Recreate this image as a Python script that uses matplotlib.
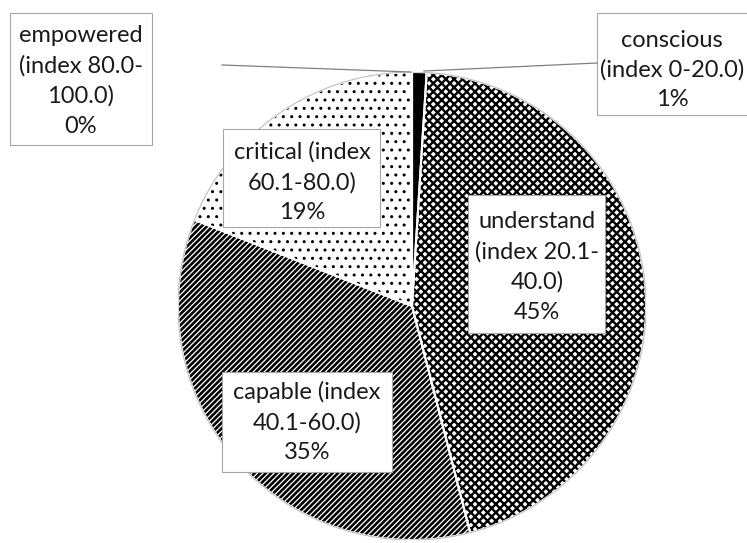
import numpy as np
import matplotlib
matplotlib.use('Agg')
import matplotlib.pyplot as plt
from matplotlib.patches import Rectangle, Circle

# ---------------------------------------------------------------
# Data
# ---------------------------------------------------------------
categories = ['conscious\n(index 0-20.0)',
              'understand\n(index 20.1-\n40.0)',
              'capable (index\n40.1-60.0)',
              'critical (index\n60.1-80.0)',
              'empowered\n(index 80.0-\n100.0)']
shares     = [1, 45, 35, 19, 0]

hatches    = ['', 'xxxx', '//////', '..', '']
hatch_lw   = [1.0, 1.7, 1.9, 1.0, 1.0]
faces      = ['black', 'white', 'white', 'white', 'white']

plt.rcParams['font.family'] = ['Lato', 'DejaVu Sans']
plt.rcParams['hatch.linewidth'] = 1.8

W, H = 747, 543
fig = plt.figure(figsize=(W / 100, H / 100), dpi=100)


def fx(px):
    return px / W


def fy(py):
    return 1 - py / H


# pie axes: centre (412, 306), radius 234 px
cx, cy, r = 412, 306, 234
ax = fig.add_axes([fx(cx - r), fy(cy + r), 2 * r / W, 2 * r / H])

wedges, _ = ax.pie(shares, radius=1, startangle=90, counterclock=False,
                   colors=faces,
                   wedgeprops=dict(edgecolor='black', linewidth=0))
for w, h, lw in zip(wedges, hatches, hatch_lw):
    w.set_hatch(h)
    if hasattr(w, 'set_hatch_linewidth'):
        w.set_hatch_linewidth(lw)

# white separators + grey outline
ax.pie(shares, radius=1, startangle=90, counterclock=False,
       colors=['none'] * len(shares),
       wedgeprops=dict(edgecolor='white', linewidth=1.5, fill=False))
ax.add_patch(Circle((0, 0), 1, fill=False, edgecolor='#bfbfbf', linewidth=0.8))

ax.set_xlim(-1, 1)
ax.set_ylim(-1, 1)
ax.set_aspect('equal')
ax.axis('off')

# ---------------------------------------------------------------
# Label boxes (pixel layout)
# ---------------------------------------------------------------
boxes = [(597, 13, 160, 102),   # conscious
         (468, 195, 137, 138),  # understand
         (222, 372, 170, 100),  # capable
         (223, 129, 157, 98),   # critical
         (10, 13, 142, 132)]    # empowered
text_x = [672, 537, 307, 302, 81]
text_y = [70, 267, 422, 182, 81]

for lab, s, (bx, by, bw, bh), tx, ty in zip(categories, shares, boxes, text_x, text_y):
    fig.patches.append(Rectangle((fx(bx), fy(by + bh)), bw / W, bh / H,
                                 transform=fig.transFigure, facecolor='white',
                                 edgecolor='#a6a6a6', linewidth=0.8))
    fig.text(fx(tx), fy(ty), lab + '\n' + str(s) + '%',
             ha='center', va='center', fontsize=17, color='#1a1a1a',
             linespacing=1.5)

# leader lines
fig.add_artist(plt.Line2D([fx(222), fx(411)], [fy(65), fy(72)],
                          color='#7f7f7f', linewidth=0.9))
fig.add_artist(plt.Line2D([fx(597), fx(424)], [fy(63), fy(71)],
                          color='#7f7f7f', linewidth=0.9))

plt.savefig('out.png', dpi=100)
